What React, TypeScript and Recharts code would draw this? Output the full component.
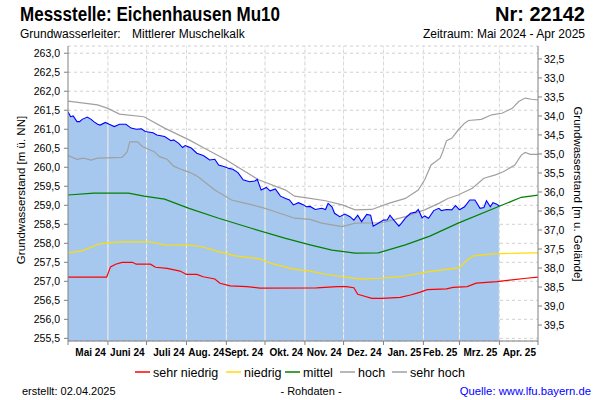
import React from 'react';
import { ComposedChart, Area, Line, XAxis, YAxis, CartesianGrid, ReferenceLine } from 'recharts';

// ---- categories / ticks ----
const monthEndDays = [31, 61, 92, 123, 153, 184, 214, 245, 276, 304, 335, 365];
const monthLabels = ['Mai 24', 'Juni 24', 'Juli 24', 'Aug. 24', 'Sept. 24', 'Okt. 24', 'Nov. 24', 'Dez. 24', 'Jan. 25', 'Feb. 25', 'Mrz. 25', 'Apr. 25'];
const xTicks = [0, 31, 61, 92, 123, 153, 184, 214, 245, 276, 304, 335, 365];
const levelTicks = [255.5, 256, 256.5, 257, 257.5, 258, 258.5, 259, 259.5, 260, 260.5, 261, 261.5, 262, 262.5, 263];
const depthTicks = [32.5, 33, 33.5, 34, 34.5, 35, 35.5, 36, 36.5, 37, 37.5, 38, 38.5, 39, 39.5];
const levelDomain = [255.43, 263.19];
const depthDomain = [32.16, 39.92];

// ---- measured groundwater level (days since 1 May 2024) ----
const measuredDays = [0, 2, 4, 7, 9, 11, 15, 18, 20, 23, 25, 29, 32, 36, 40, 45, 49, 53, 57, 60, 66, 69, 75, 80, 82, 86, 89, 91, 94, 96, 100, 104, 106, 110, 114, 117, 121, 125, 128, 132, 136, 141, 145, 147, 150, 154, 157, 161, 165, 169, 172, 175, 179, 183, 185, 188, 192, 197, 200, 202, 205, 207, 211, 215, 219, 222, 225, 228, 232, 235, 237, 241, 245, 248, 250, 253, 257, 259, 262, 266, 270, 272, 275, 277, 280, 284, 288, 290, 294, 298, 301, 304, 308, 312, 316, 320, 323, 325, 328, 330, 333, 335];
const measuredValues = [261.46, 261.33, 261.35, 261.20, 261.20, 261.26, 261.32, 261.26, 261.20, 261.13, 261.11, 261.18, 261.13, 261.07, 261.13, 261.13, 261.03, 261.00, 261.01, 260.94, 260.91, 260.85, 260.81, 260.70, 260.72, 260.63, 260.52, 260.57, 260.53, 260.50, 260.37, 260.32, 260.29, 260.19, 260.21, 260.06, 260.02, 259.97, 259.95, 259.86, 259.67, 259.62, 259.64, 259.68, 259.40, 259.47, 259.38, 259.43, 259.24, 259.18, 259.14, 259.01, 259.07, 259.01, 258.96, 258.97, 258.89, 258.92, 258.89, 259.05, 258.96, 258.79, 258.70, 258.77, 258.70, 258.61, 258.74, 258.57, 258.76, 258.74, 258.45, 258.53, 258.61, 258.62, 258.74, 258.61, 258.45, 258.53, 258.66, 258.79, 258.82, 258.89, 258.67, 258.72, 258.66, 258.86, 258.92, 258.86, 258.89, 258.88, 258.99, 258.88, 258.96, 259.14, 259.14, 258.92, 258.94, 259.12, 258.96, 259.07, 259.03, 258.98];

// ---- statistical reference lines ----
const sehrHochDays = [0, 23, 31, 40, 59, 75, 94, 106, 123, 148, 169, 176, 188, 200, 213, 223, 236, 249, 262, 272, 277, 282, 289, 291, 294, 298, 303, 308, 311, 321, 329, 337, 345, 350, 355, 360, 365];
const sehrHochValues = [261.74, 261.64, 261.55, 261.40, 261.33, 261.03, 260.72, 260.50, 260.19, 259.67, 259.40, 259.24, 259.18, 259.12, 259.01, 258.88, 258.89, 259.05, 259.18, 259.40, 259.67, 260.06, 260.24, 260.41, 260.70, 260.76, 260.98, 261.16, 261.23, 261.26, 261.38, 261.42, 261.55, 261.73, 261.82, 261.79, 261.77];

const hochDays = [0, 7, 12, 18, 23, 42, 46, 48, 54, 58, 67, 71, 77, 82, 89, 95, 101, 114, 127, 143, 153, 161, 176, 188, 197, 213, 223, 244, 262, 277, 288, 295, 303, 314, 323, 332, 338, 347, 352, 355, 359, 365];
const hochValues = [260.31, 260.21, 260.24, 260.19, 260.24, 260.26, 260.41, 260.67, 260.67, 260.54, 260.41, 260.28, 260.21, 260.03, 259.93, 259.86, 259.75, 259.40, 259.14, 259.01, 258.92, 258.83, 258.66, 258.63, 258.53, 258.44, 258.53, 258.54, 258.70, 258.88, 259.05, 259.18, 259.27, 259.45, 259.71, 259.80, 259.88, 260.06, 260.32, 260.39, 260.34, 260.34];

const mittelDays = [0, 20, 47, 59, 75, 94, 117, 143, 169, 188, 205, 223, 241, 262, 281, 303, 334, 352, 365];
const mittelValues = [259.27, 259.32, 259.32, 259.24, 259.16, 258.92, 258.66, 258.39, 258.13, 257.96, 257.82, 257.74, 257.75, 257.96, 258.19, 258.53, 258.96, 259.21, 259.27];

const niedrigDays = [0, 11, 24, 33, 41, 64, 75, 94, 104, 117, 130, 149, 158, 175, 188, 201, 227, 242, 253, 262, 279, 304, 310, 315, 330, 350, 365];
const niedrigValues = [257.75, 257.80, 257.98, 258.02, 258.04, 258.04, 257.96, 257.95, 257.91, 257.78, 257.67, 257.59, 257.47, 257.32, 257.27, 257.18, 257.06, 257.08, 257.11, 257.14, 257.25, 257.36, 257.56, 257.67, 257.72, 257.74, 257.75];

const sehrNiedrigDays = [0, 30, 33, 37, 42, 50, 53, 64, 68, 77, 87, 92, 100, 105, 114, 118, 126, 139, 149, 193, 209, 216, 222, 225, 229, 236, 244, 258, 266, 273, 279, 294, 299, 310, 317, 333, 343, 356, 365];
const sehrNiedrigValues = [257.11, 257.11, 257.38, 257.45, 257.50, 257.50, 257.45, 257.45, 257.37, 257.34, 257.27, 257.18, 257.18, 257.12, 257.06, 256.95, 256.88, 256.86, 256.82, 256.83, 256.86, 256.86, 256.83, 256.66, 256.62, 256.55, 256.55, 256.58, 256.64, 256.71, 256.78, 256.80, 256.84, 256.86, 256.95, 256.99, 257.03, 257.08, 257.11];

const toData = (days: number[], vals: number[]) => days.map((d, i) => ({ day: d, v: vals[i] }));

const measuredData = toData(measuredDays, measuredValues);
const sehrHochData = toData(sehrHochDays, sehrHochValues);
const hochData = toData(hochDays, hochValues);
const mittelData = toData(mittelDays, mittelValues);
const niedrigData = toData(niedrigDays, niedrigValues);
const sehrNiedrigData = toData(sehrNiedrigDays, sehrNiedrigValues);

const FONT = "'Liberation Sans', Arial, sans-serif";
const AXIS = '#808080';

const fmt = (v: number) => v.toFixed(1).replace('.', ',');

const XTick = (props: any) => {
  const { x, y, payload } = props;
  const idx = monthEndDays.indexOf(payload.value);
  if (idx < 0) return null;
  return (
    <text x={x - 2} y={y} dy="0.71em" textAnchor="end" fontSize={10} fontWeight="bold" fontFamily={FONT} fill="#000">
      {monthLabels[idx]}
    </text>
  );
};

const legendItems = [
  { label: 'sehr niedrig', color: '#ff0000', x: 135 },
  { label: 'niedrig', color: '#ffdd00', x: 226 },
  { label: 'mittel', color: '#008000', x: 285 },
  { label: 'hoch', color: '#a0a0a0', x: 340 },
  { label: 'sehr hoch', color: '#a0a0a0', x: 392 },
];

export default function App() {
  return (
    <div style={{ position: 'absolute', left: 0, top: 0, width: 600, height: 400, background: '#fff', fontFamily: FONT }}>
      <ComposedChart width={600} height={400} margin={{ top: 46, right: 0, bottom: 39, left: 0 }}>
        <CartesianGrid vertical={false} stroke="#d0d0d0" strokeDasharray="3 3" yAxisId="left" />
        <XAxis
          dataKey="day"
          type="number"
          domain={[0, 365]}
          allowDataOverflow
          ticks={xTicks}
          interval={0}
          tick={<XTick />}
          tickSize={4}
          tickMargin={4}
          height={20}
          stroke={AXIS}
        />
        <XAxis xAxisId="top" orientation="top" type="number" domain={[0, 365]} height={0} tick={false} tickLine={false} stroke={AXIS} />
        <YAxis
          yAxisId="left"
          type="number"
          domain={levelDomain}
          allowDataOverflow
          ticks={levelTicks}
          interval={0}
          tickFormatter={fmt}
          width={68}
          tickSize={4}
          tickMargin={4}
          stroke={AXIS}
          tick={{ fontSize: 10.5, fill: '#000', fontFamily: FONT }}
        />
        <YAxis
          yAxisId="right"
          orientation="right"
          type="number"
          reversed
          domain={depthDomain}
          allowDataOverflow
          ticks={depthTicks}
          interval={0}
          tickFormatter={fmt}
          width={62}
          tickSize={4}
          tickMargin={2}
          stroke={AXIS}
          tick={{ fontSize: 10.5, fill: '#000', fontFamily: FONT, textAnchor: 'start' }}
        />
        <Area
          yAxisId="left"
          data={measuredData}
          dataKey="v"
          type="linear"
          stroke="none"
          fill="#a6c8ef"
          fillOpacity={1}
          baseValue="dataMin"
          isAnimationActive={false}
        />
        {monthEndDays.slice(0, 11).map((d) => (
          <ReferenceLine key={'w' + d} yAxisId="left" x={d} stroke="#f4f2ee" strokeWidth={1} />
        ))}
        {monthEndDays.slice(0, 11).map((d) => (
          <ReferenceLine key={'g' + d} yAxisId="left" x={d} stroke="#d8d8d8" strokeWidth={1} strokeDasharray="3 3" />
        ))}
        <Line yAxisId="left" data={sehrHochData} dataKey="v" type="linear" stroke="#a0a0a0" strokeWidth={1.2} dot={false} isAnimationActive={false} />
        <Line yAxisId="left" data={hochData} dataKey="v" type="linear" stroke="#a0a0a0" strokeWidth={1.2} dot={false} isAnimationActive={false} />
        <Line yAxisId="left" data={mittelData} dataKey="v" type="linear" stroke="#008000" strokeWidth={1.2} dot={false} isAnimationActive={false} />
        <Line yAxisId="left" data={niedrigData} dataKey="v" type="linear" stroke="#ffdd00" strokeWidth={1.2} dot={false} isAnimationActive={false} />
        <Line yAxisId="left" data={sehrNiedrigData} dataKey="v" type="linear" stroke="#ff0000" strokeWidth={1.2} dot={false} isAnimationActive={false} />
        <Line yAxisId="left" data={measuredData} dataKey="v" type="linear" stroke="#0000ff" strokeWidth={1.1} dot={false} isAnimationActive={false} />
      </ComposedChart>
      <svg width={600} height={400} style={{ position: 'absolute', left: 0, top: 0, pointerEvents: 'none', whiteSpace: 'pre' }} fontFamily={FONT}>
        <text x={20} y={21} fontSize={20} fontWeight="bold" textLength={260} lengthAdjust="spacingAndGlyphs">Messstelle: Eichenhausen Mu10</text>
        <text x={585} y={21} fontSize={20} fontWeight="bold" textAnchor="end">Nr: 22142</text>
        <text x={20} y={37.5} fontSize={12}>Grundwasserleiter:</text>
        <text x={132} y={37.5} fontSize={12}>Mittlerer Muschelkalk</text>
        <text x={585} y={37.5} fontSize={12} textAnchor="end">Zeitraum: Mai 2024 - Apr 2025</text>
        <text x={25} y={190} fontSize={11.5} textAnchor="middle" transform="rotate(-90, 25, 190)">Grundwasserstand [m ü. NN]</text>
        <text x={574} y={194} fontSize={11.5} textAnchor="middle" transform="rotate(90, 574, 194)">Grundwasserstand [m u. Gelände]</text>
        {legendItems.map((it) => (
          <g key={it.label}>
            <line x1={it.x} x2={it.x + 15} y1={372} y2={372} stroke={it.color} strokeWidth={1.5} />
            <text x={it.x + 18} y={376.5} fontSize={12.5}>{it.label}</text>
          </g>
        ))}
        <text x={22} y={395} fontSize={11}>{'erstellt:  02.04.2025'}</text>
        <text x={311} y={395} fontSize={11} textAnchor="middle">- Rohdaten -</text>
        <text x={591} y={395} fontSize={11.3} textAnchor="end" fill="#0000ff">Quelle: www.lfu.bayern.de</text>
      </svg>
    </div>
  );
}
